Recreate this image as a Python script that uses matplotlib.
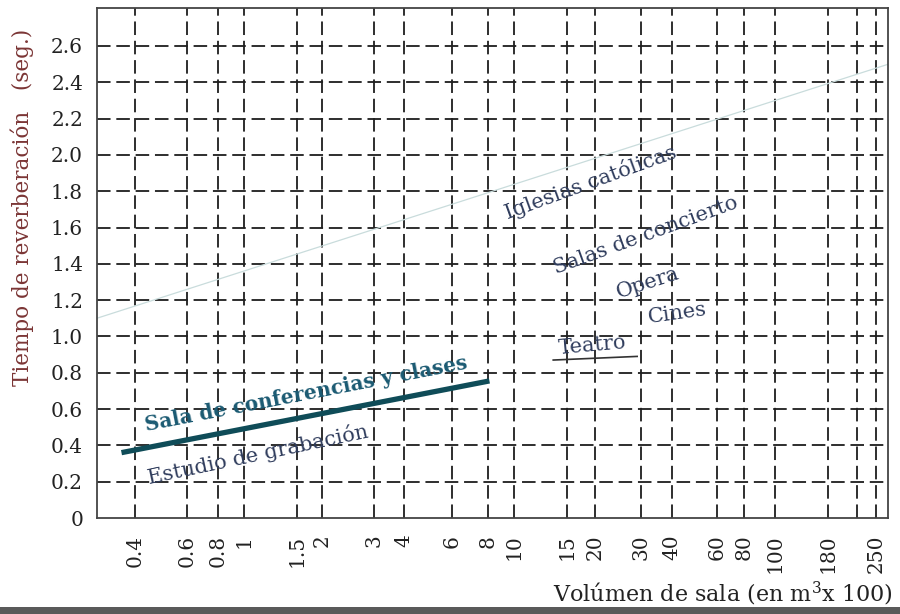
import numpy as np
import matplotlib
matplotlib.use("Agg")
import matplotlib.pyplot as plt
from matplotlib.patches import Rectangle

# ---- data ----
x_ticks = [0.4, 0.6, 0.8, 1, 1.5, 2, 3, 4, 6, 8, 10, 15, 20, 30, 40, 60, 80, 100, 180, 220, 250]
x_tick_labels = ["0.4", "0.6", "0.8", "1", "1.5", "2", "3", "4", "6", "8", "10",
                 "15", "20", "30", "40", "60", "80", "100", "180", "", "250"]
y_ticks = [0, 0.2, 0.4, 0.6, 0.8, 1.0, 1.2, 1.4, 1.6, 1.8, 2.0, 2.2, 2.4, 2.6]
y_tick_labels = ["0", "0.2", "0.4", "0.6", "0.8", "1.0", "1.2", "1.4", "1.6",
                 "1.8", "2.0", "2.2", "2.4", "2.6"]

iglesias_x = [0.297, 272]
iglesias_y = [1.10, 2.50]
conferencias_x = [0.36, 8.1]
conferencias_y = [0.36, 0.755]
teatro_x = [13.5, 29]
teatro_y = [0.87, 0.89]

# ---- layout: hand-drawn (non-uniform) axis spacing ----
tick_layout = [135, 187, 218, 244, 297, 322, 374, 404, 452, 488, 514,
               567, 595, 641, 672, 717, 744, 775, 828, 857, 876]
lt = np.log10(np.array(x_ticks, dtype=float))
px = np.array(tick_layout, dtype=float)
sL = (px[1] - px[0]) / (lt[1] - lt[0])
sR = (px[-1] - px[-2]) / (lt[-1] - lt[-2])


def fwd(x):
    x = np.asarray(x, dtype=float)
    l = np.log10(np.clip(x, 1e-9, None))
    y = np.interp(l, lt, px)
    y = np.where(l < lt[0], px[0] + (l - lt[0]) * sL, y)
    y = np.where(l > lt[-1], px[-1] + (l - lt[-1]) * sR, y)
    return y


def inv(p):
    p = np.asarray(p, dtype=float)
    l = np.interp(p, px, lt)
    l = np.where(p < px[0], lt[0] + (p - px[0]) / sL, l)
    l = np.where(p > px[-1], lt[-1] + (p - px[-1]) / sR, l)
    return 10 ** l


plt.rcParams['mathtext.fontset'] = 'dejavuserif'
fig = plt.figure(figsize=(9, 6.14), dpi=100)
ax = fig.add_axes([97 / 900, 96 / 614, 791 / 900, 510 / 614])
ax.set_xscale('function', functions=(fwd, inv))
ax.set_xlim(float(inv(97)), float(inv(888)))
ax.set_ylim(0, 2.809)

grid_kw = dict(color='#1e1e1e', lw=1.3, dashes=(7.5, 3.2), zorder=1)
for xv in x_ticks:
    ax.axvline(xv, **grid_kw)
for yv in y_ticks[1:]:
    ax.axhline(yv, **grid_kw)

ax.plot(iglesias_x, iglesias_y, color='#c9dcdc', lw=0.9, zorder=2)
ax.plot(conferencias_x, conferencias_y, color='#0f4c58', lw=3.8,
        solid_capstyle='butt', zorder=3)
ax.plot(teatro_x, teatro_y, color='#333333', lw=1.2, zorder=3)

ax.set_xticks(x_ticks)
ax.set_xticklabels(x_tick_labels, rotation=90, fontfamily='DejaVu Serif',
                   fontsize=14.5, color='#222222')
ax.set_yticks(y_ticks)
ax.set_yticklabels(y_tick_labels, fontfamily='DejaVu Serif', fontsize=14.5,
                   color='#222222')
ax.tick_params(axis='x', length=0, pad=12)
ax.tick_params(axis='y', length=0, pad=10)
ax.minorticks_off()
for s in ax.spines.values():
    s.set_color('#444444')
    s.set_linewidth(1.3)

lab = dict(family='DejaVu Serif', fontsize=15, color='#2f3c5c',
           ha='center', va='center', zorder=4)
ax.text(19.2, 1.85, "Iglesias católicas", rotation=20, **lab)
ax.text(31.4, 1.555, "Salas de concierto", rotation=20, **lab)
ax.text(32, 1.295, "Opera", rotation=18, **lab)
ax.text(41.9, 1.124, "Cines", rotation=8, **lab)
ax.text(19.4, 0.948, "Teatro", rotation=5, **lab)
ax.text(1.11, 0.353, "Estudio de grabación", rotation=12, **lab)
ax.text(1.66, 0.685, "Sala de conferencias y clases", rotation=11,
        family='DejaVu Serif', fontsize=14.5, fontweight='bold',
        color='#1b5a72', ha='center', va='center', zorder=4)

fig.text(22 / 900, 1 - 207 / 614, "Tiempo de reverberación   (seg.)",
         rotation=90, ha='center', va='center', family='DejaVu Serif',
         fontsize=15.5, color='#7b3535')
fig.text(893 / 900, 1 - 594 / 614, r"Volúmen de sala (en m$^3$x 100)",
         ha='right', va='center', family='DejaVu Serif', fontsize=16,
         color='#222222')

fig.patches.append(Rectangle((0, 0), 1, 7 / 614, transform=fig.transFigure,
                             facecolor='#5a5a5a', edgecolor='none'))

fig.savefig("out.png", dpi=100)
